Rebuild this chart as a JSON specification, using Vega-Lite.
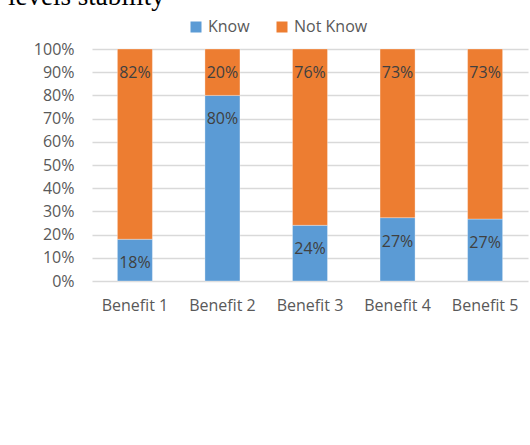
{
  "$schema": "https://vega.github.io/schema/vega-lite/v6.json",
  "width": 436,
  "height": 232,
  "autosize": {"type": "none"},
  "padding": {"left": 92, "top": 49, "right": 2, "bottom": 164},
  "background": "white",
  "title": {
    "text": "levels stability",
    "anchor": "start",
    "frame": "group",
    "font": "Liberation Serif",
    "fontSize": 27,
    "fontWeight": "normal",
    "color": "black",
    "baseline": "alphabetic",
    "dx": -84,
    "dy": 28,
    "offset": 15
  },
  "config": {
    "view": {"stroke": null},
    "font": "Open Sans"
  },
  "data": {
    "values": [
      {"benefit": "Benefit 1", "status": "Know", "pct": 0.18},
      {"benefit": "Benefit 1", "status": "Not Know", "pct": 0.82},
      {"benefit": "Benefit 2", "status": "Know", "pct": 0.80},
      {"benefit": "Benefit 2", "status": "Not Know", "pct": 0.20},
      {"benefit": "Benefit 3", "status": "Know", "pct": 0.24},
      {"benefit": "Benefit 3", "status": "Not Know", "pct": 0.76},
      {"benefit": "Benefit 4", "status": "Know", "pct": 0.273},
      {"benefit": "Benefit 4", "status": "Not Know", "pct": 0.727},
      {"benefit": "Benefit 5", "status": "Know", "pct": 0.267},
      {"benefit": "Benefit 5", "status": "Not Know", "pct": 0.733}
    ]
  },
  "encoding": {
    "x": {
      "field": "benefit",
      "type": "nominal",
      "scale": {"paddingInner": 0.6, "paddingOuter": 0.29},
      "axis": {
        "title": null,
        "labelAngle": 0,
        "labelFont": "Open Sans",
        "labelFontSize": 16,
        "labelColor": "#595959",
        "labelPadding": 16,
        "ticks": false,
        "domain": false
      }
    },
    "y": {
      "field": "pct",
      "type": "quantitative",
      "stack": "zero",
      "scale": {"domain": [0, 1]},
      "axis": {
        "title": null,
        "values": [0, 0.1, 0.2, 0.3, 0.4, 0.5, 0.6, 0.7, 0.8, 0.9, 1],
        "format": ".0%",
        "labelFont": "Open Sans",
        "labelFontSize": 16,
        "labelColor": "#595959",
        "labelPadding": 18,
        "ticks": false,
        "domain": false,
        "gridColor": "#d9d9d9",
        "gridWidth": 1.5
      }
    },
    "order": {"field": "status", "type": "nominal", "sort": "ascending"}
  },
  "layer": [
    {
      "mark": {"type": "bar", "stroke": "white", "strokeOpacity": 0.4, "strokeWidth": 0.8},
      "encoding": {
        "color": {
          "field": "status",
          "type": "nominal",
          "scale": {"domain": ["Know", "Not Know"], "range": ["#5B9BD5", "#ED7D31"]},
          "legend": {
            "title": null,
            "orient": "none",
            "direction": "horizontal",
            "legendX": 96,
            "legendY": -30,
            "symbolType": "square",
            "symbolSize": 121,
            "symbolStrokeWidth": 0,
            "labelFont": "Open Sans",
            "labelFontSize": 16,
            "labelColor": "#595959",
            "labelOffset": 4,
            "columnPadding": 24
          }
        }
      }
    },
    {
      "mark": {"type": "text", "baseline": "middle", "dy": 24, "fontSize": 16, "color": "#404040", "font": "Open Sans"},
      "encoding": {
        "text": {"field": "pct", "type": "quantitative", "format": ".0%"},
        "detail": {"field": "status", "type": "nominal"}
      }
    }
  ]
}
